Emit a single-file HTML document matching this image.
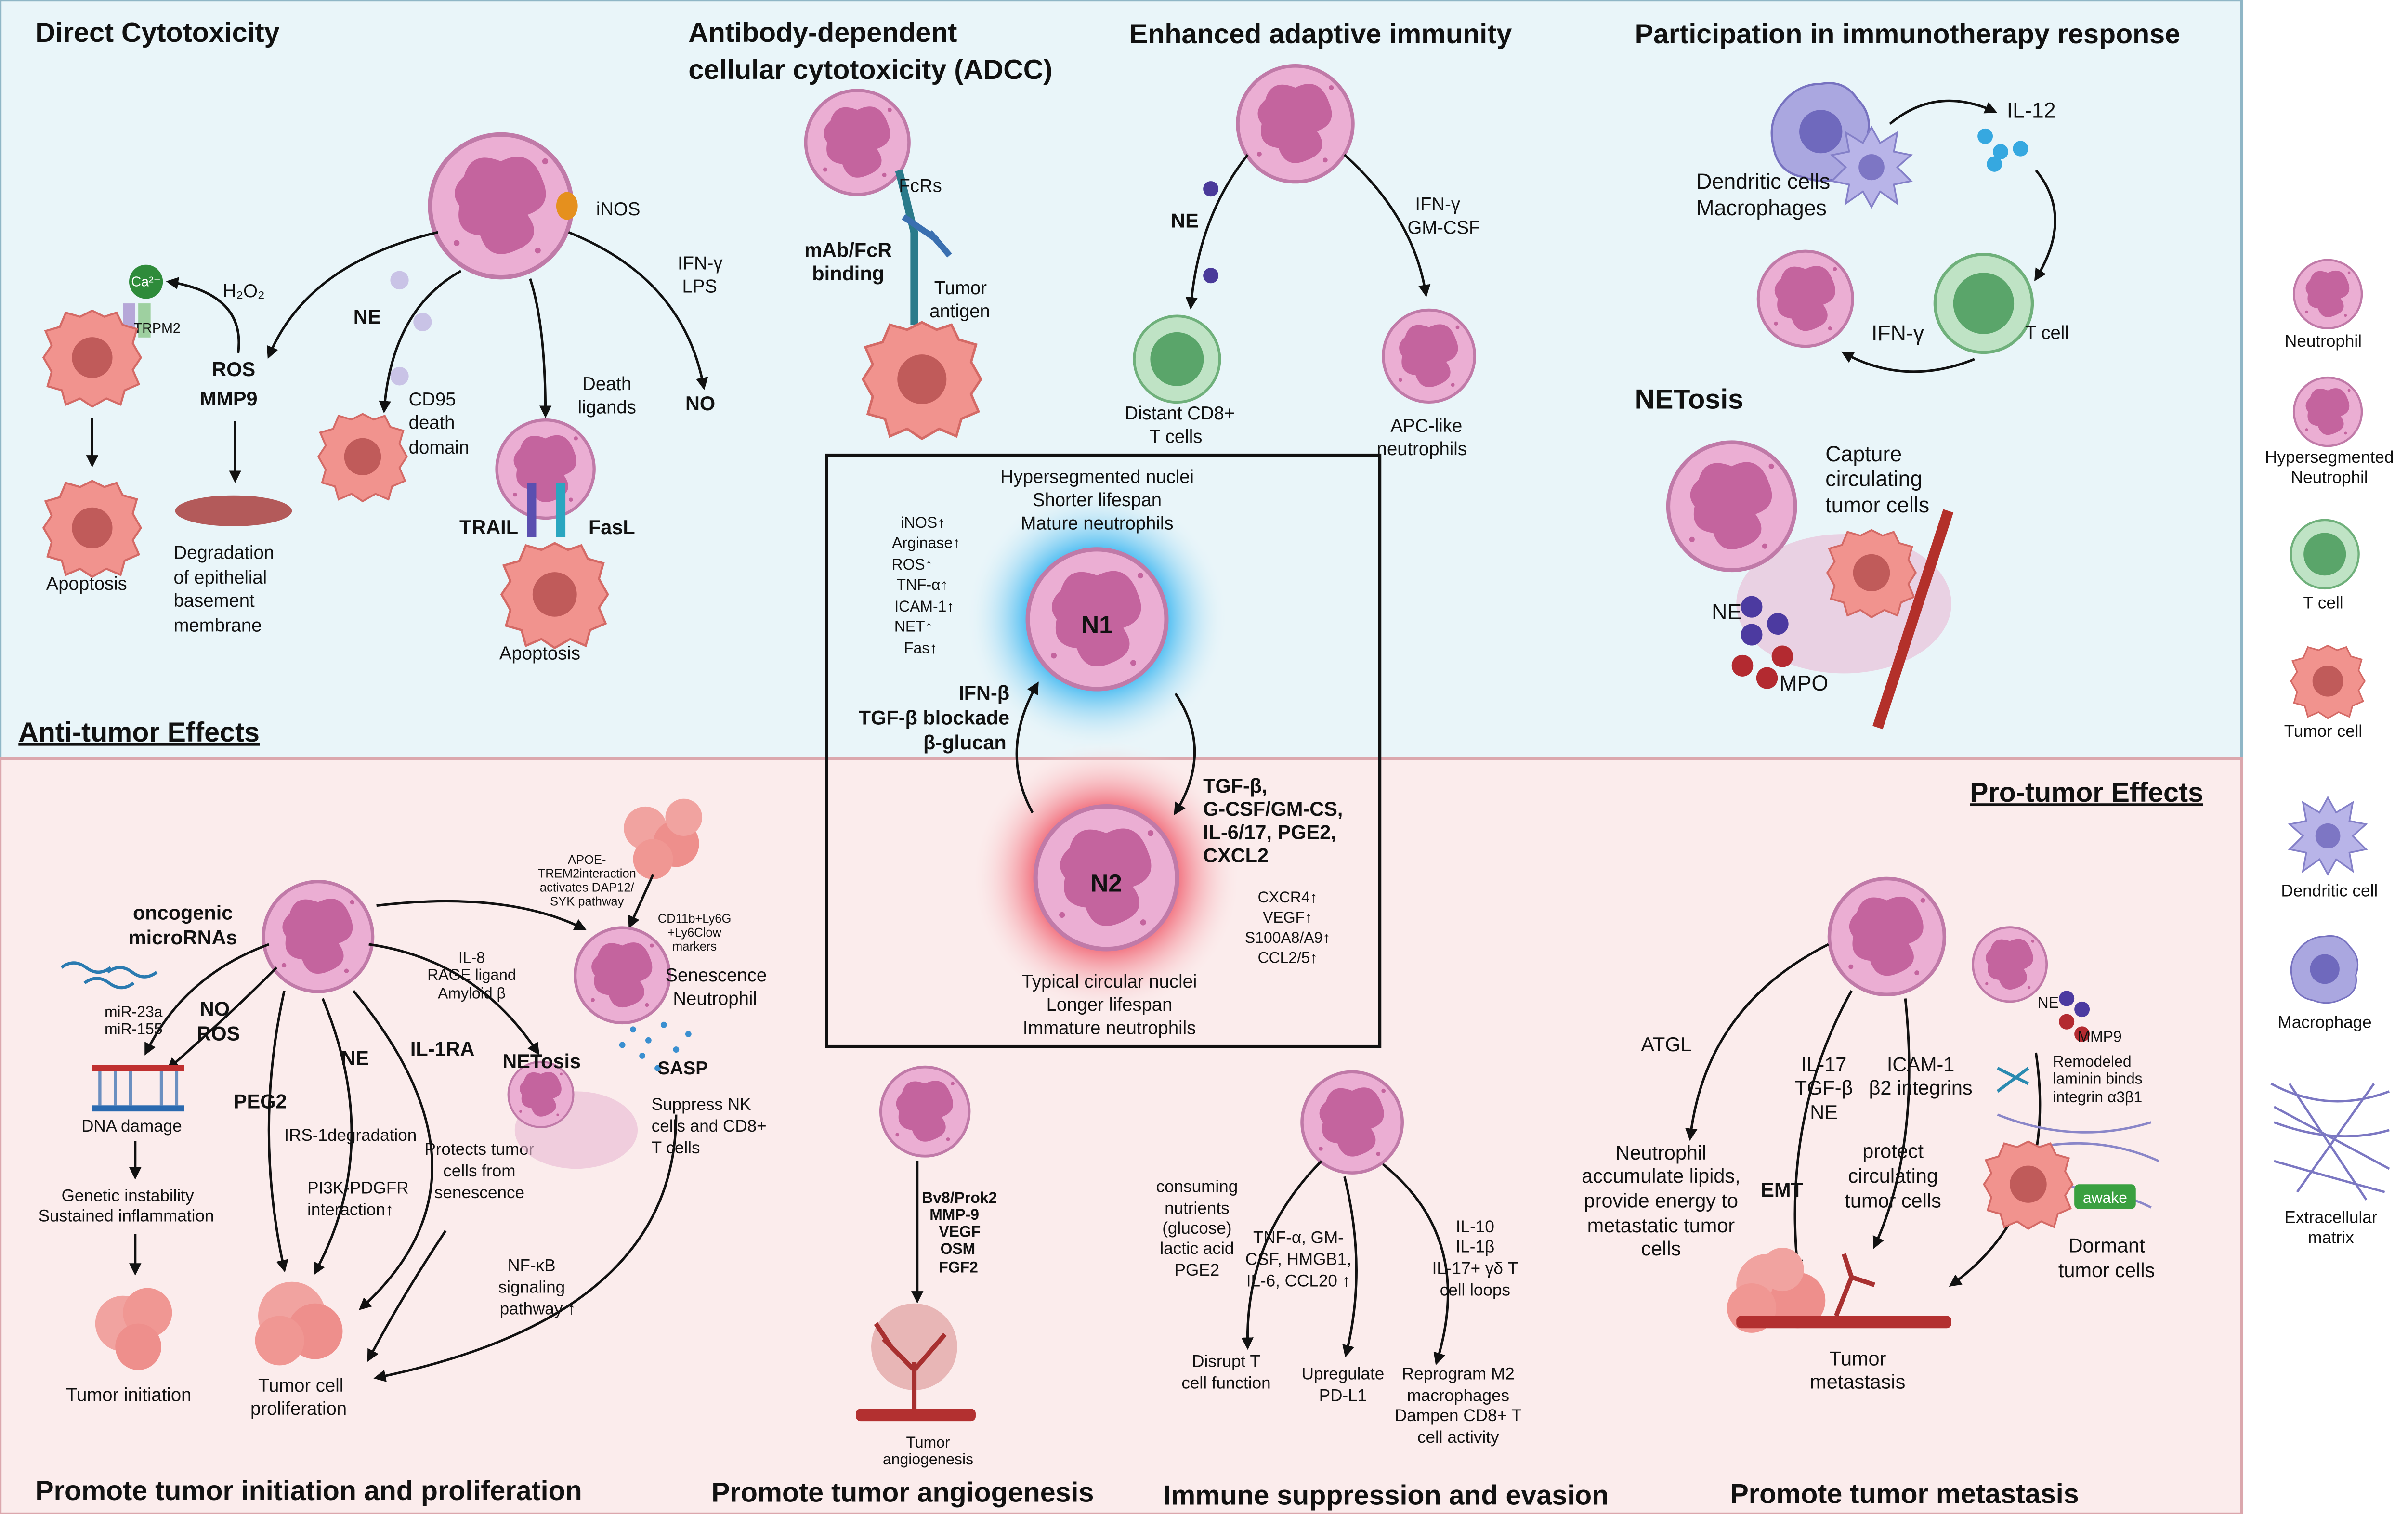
<!DOCTYPE html>
<html><head><meta charset="utf-8"><style>
html,body{margin:0;padding:0;background:#fff}
svg{display:block}
text{font-family:"Liberation Sans",sans-serif;fill:#111}
.t{font-size:18px;font-weight:bold}
.s{font-size:12px}
.xs{font-size:9px}
.b{font-weight:bold;font-size:13px}
.c{text-anchor:middle}
.r{text-anchor:end}
.a{fill:none;stroke:#111;stroke-width:1.6;marker-end:url(#ar)}
</style></head><body>
<svg width="5025" height="3144" viewBox="0 0 1575 978" preserveAspectRatio="none" xmlns="http://www.w3.org/2000/svg">
<defs>
<marker id="ar" markerWidth="8" markerHeight="8" refX="6" refY="4" orient="auto" markerUnits="userSpaceOnUse"><path d="M0,0 L8,4 L0,8 z" fill="#111"/></marker>
<symbol id="neu" viewBox="-50 -50 100 100"><circle r="48" fill="#ebaed3" stroke="#c07aa8" stroke-width="3"/><path d="M-25,-20 Q-20,-38 0,-30 Q20,-40 28,-18 Q36,0 18,6 Q30,22 10,30 Q-8,38 -14,20 Q-32,18 -28,0 Q-36,-10 -25,-20z" fill="#c4649e"/><circle cx="-30" cy="25" r="2" fill="#c4649e"/><circle cx="30" cy="-30" r="2" fill="#c4649e"/><circle cx="25" cy="30" r="2" fill="#c4649e"/></symbol>
<symbol id="tum" viewBox="-50 -50 100 100"><path d="M0,-46 L12,-40 24,-44 30,-32 44,-28 40,-14 48,0 40,12 46,26 32,32 28,46 14,40 0,48 -12,40 -26,46 -30,32 -44,28 -40,14 -48,0 -40,-12 -46,-26 -32,-30 -26,-44 -12,-40z" fill="#f1938e" stroke="#d46a66" stroke-width="2"/><circle r="20" fill="#c05b5a"/></symbol>
<symbol id="tc" viewBox="-50 -50 100 100"><circle r="48" fill="#bfe3c5" stroke="#6fb07b" stroke-width="3"/><circle r="30" fill="#5aa56a"/></symbol>
<symbol id="dc" viewBox="-50 -50 100 100"><path d="M0,-46 L10,-28 30,-40 26,-18 46,-14 30,0 46,16 26,20 30,42 10,28 0,46 -10,28 -30,42 -26,20 -46,16 -30,0 -46,-14 -26,-18 -30,-40 -10,-28z" fill="#b8b4e8" stroke="#8480c8" stroke-width="2"/><circle r="15" fill="#7d76c4"/></symbol>
<symbol id="mac" viewBox="-50 -50 100 100"><path d="M0,-44 Q22,-48 34,-30 Q50,-14 42,8 Q46,32 24,40 Q4,50 -16,42 Q-40,38 -44,14 Q-50,-10 -34,-28 Q-20,-44 0,-44z" fill="#aaa7e0" stroke="#7772c0" stroke-width="2"/><circle r="20" fill="#6f69bd"/></symbol>
<radialGradient id="gb"><stop offset="0.5" stop-color="#2ab0f0" stop-opacity="0.9"/><stop offset="1" stop-color="#e8f4f8" stop-opacity="0"/></radialGradient>
<radialGradient id="gr"><stop offset="0.5" stop-color="#f05a6a" stop-opacity="0.9"/><stop offset="1" stop-color="#fbecec" stop-opacity="0"/></radialGradient>
</defs>
<rect x="0" y="0" width="1459" height="490" fill="#e9f5f9" stroke="#8fb6c6" stroke-width="2"/>
<rect x="0" y="490" width="1459" height="488" fill="#fbecec" stroke="#dba7ad" stroke-width="2"/>
<rect x="1460" y="0" width="115" height="978" fill="#fff"/>

<text class="t" x="23" y="27">Direct Cytotoxicity</text>
<text class="t" x="448" y="27">Antibody-dependent</text>
<text class="t" x="448" y="51">cellular cytotoxicity (ADCC)</text>
<text class="t" x="735" y="28">Enhanced adaptive immunity</text>
<text class="t" x="1064" y="28">Participation in immunotherapy response</text>
<text class="t" x="1064" y="264">NETosis</text>
<text class="t" x="12" y="479" text-decoration="underline">Anti-tumor Effects</text>
<text class="t" x="1282" y="518" text-decoration="underline">Pro-tumor Effects</text>
<text class="t" x="23" y="969">Promote tumor initiation and proliferation</text>
<text class="t" x="463" y="970">Promote tumor angiogenesis</text>
<text class="t" x="757" y="972">Immune suppression and evasion</text>
<text class="t" x="1126" y="971">Promote tumor metastasis</text>

<use href="#neu" x="278" y="85" width="96" height="96"/>
<ellipse cx="369" cy="133" rx="7" ry="9" fill="#e5901e"/>
<text class="s" x="388" y="139">iNOS</text>
<path class="a" d="M285,150 Q200,170 175,230"/>
<path class="a" d="M300,175 Q255,200 250,265"/>
<path class="a" d="M345,180 Q355,210 355,268"/>
<path class="a" d="M370,150 Q445,180 458,250"/>
<path class="a" d="M155,228 Q160,190 110,182"/>
<circle cx="95" cy="182" r="11" fill="#2e8b3a"/><text class="xs c" x="95" y="185" style="fill:#fff">Ca²⁺</text>
<rect x="80" y="196" width="8" height="22" fill="#b6a7d8"/><rect x="90" y="196" width="8" height="22" fill="#9ed0a0"/>
<text class="xs" x="87" y="215">TRPM2</text>
<text class="s" x="145" y="192">H₂O₂</text>
<use href="#tum" x="27" y="198" width="66" height="66"/>
<path class="a" d="M60,270 L60,300"/>
<use href="#tum" x="27" y="308" width="66" height="66"/>
<text class="s" x="30" y="381">Apoptosis</text>
<text class="b" x="138" y="243">ROS</text><text class="b" x="130" y="262">MMP9</text>
<path class="a" d="M153,272 L153,310"/>
<ellipse cx="152" cy="330" rx="38" ry="10" fill="#b35a5a"/>
<text class="s" x="113" y="361">Degradation</text><text class="s" x="113" y="377">of epithelial</text><text class="s" x="113" y="392">basement</text><text class="s" x="113" y="408">membrane</text>
<text class="b" x="230" y="209">NE</text>
<circle cx="260" cy="181" r="6" fill="#c9c3e6"/><circle cx="275" cy="208" r="6" fill="#c9c3e6"/><circle cx="260" cy="243" r="6" fill="#c9c3e6"/>
<use href="#tum" x="206" y="265" width="60" height="60"/>
<text class="s" x="266" y="262">CD95</text><text class="s" x="266" y="277">death</text><text class="s" x="266" y="293">domain</text>
<text class="s" x="379" y="252">Death</text><text class="s" x="376" y="267">ligands</text>
<use href="#neu" x="322" y="270" width="66" height="66"/>
<rect x="343" y="312" width="6" height="35" fill="#5a4fb0"/><rect x="362" y="312" width="6" height="35" fill="#2aa6c0"/>
<text class="b" x="299" y="345">TRAIL</text><text class="b" x="383" y="345">FasL</text>
<use href="#tum" x="322" y="348" width="78" height="72"/>
<text class="s" x="325" y="426">Apoptosis</text>
<text class="s" x="441" y="174">IFN-γ</text><text class="s" x="444" y="189">LPS</text>
<text class="b" x="446" y="265">NO</text>

<use href="#neu" x="523" y="57" width="70" height="70"/>
<path d="M585,110 L595,150 L595,210" stroke="#2a7a8a" stroke-width="5" fill="none"/>
<path d="M588,140 L610,155 M605,150 L618,165" stroke="#3a6fb0" stroke-width="4"/>
<text class="s" x="585" y="124">FcRs</text>
<text class="b c" x="552" y="166">mAb/FcR</text><text class="b c" x="552" y="181">binding</text>
<text class="s" x="608" y="190">Tumor</text><text class="s" x="605" y="205">antigen</text>
<use href="#tum" x="560" y="205" width="80" height="80"/>

<use href="#neu" x="804" y="41" width="78" height="78"/>
<path class="a" d="M812,100 Q780,140 775,198"/>
<path class="a" d="M875,100 Q920,140 928,190"/>
<text class="b" x="762" y="147">NE</text>
<circle cx="788" cy="122" r="5" fill="#4a3a9a"/><circle cx="788" cy="178" r="5" fill="#4a3a9a"/>
<use href="#tc" x="737" y="203" width="58" height="58"/>
<text class="s" x="732" y="271">Distant CD8+</text><text class="s" x="748" y="286">T cells</text>
<text class="s" x="921" y="136">IFN-γ</text><text class="s" x="916" y="151">GM-CSF</text>
<use href="#neu" x="899" y="199" width="62" height="62"/>
<text class="s" x="905" y="279">APC-like</text><text class="s" x="896" y="294">neutrophils</text>

<use href="#mac" x="1150" y="50" width="70" height="70"/>
<use href="#dc" x="1190" y="80" width="56" height="56"/>
<text class="s" x="1104" y="122" style="font-size:14px">Dendritic cells</text>
<text class="s" x="1104" y="139" style="font-size:14px">Macrophages</text>
<path class="a" d="M1230,80 Q1260,55 1298,72"/>
<text class="s" x="1306" y="76" style="font-size:14px">IL-12</text>
<circle cx="1292" cy="88" r="5" fill="#36a8e0"/><circle cx="1302" cy="98" r="5" fill="#36a8e0"/><circle cx="1315" cy="96" r="5" fill="#36a8e0"/><circle cx="1298" cy="106" r="5" fill="#36a8e0"/>
<path class="a" d="M1325,110 Q1350,140 1325,180"/>
<use href="#tc" x="1258" y="163" width="66" height="66"/>
<text class="s" x="1318" y="219">T cell</text>
<use href="#neu" x="1143" y="161" width="64" height="64"/>
<path class="a" d="M1285,232 Q1240,250 1200,228"/>
<text class="s" x="1218" y="220" style="font-size:14px">IFN-γ</text>

<ellipse cx="1200" cy="390" rx="70" ry="45" fill="#e9b9d3" opacity="0.6"/>
<use href="#neu" x="1084" y="284" width="86" height="86"/>
<path d="M1268,330 L1222,470" stroke="#b3302a" stroke-width="7"/>
<use href="#tum" x="1188" y="340" width="60" height="60"/>
<text class="s" x="1188" y="298" style="font-size:14px">Capture</text><text class="s" x="1188" y="314" style="font-size:14px">circulating</text><text class="s" x="1188" y="331" style="font-size:14px">tumor cells</text>
<circle cx="1140" cy="392" r="7" fill="#4c3aa0"/><circle cx="1157" cy="403" r="7" fill="#4c3aa0"/><circle cx="1140" cy="410" r="7" fill="#4c3aa0"/>
<circle cx="1134" cy="430" r="7" fill="#b32a30"/><circle cx="1150" cy="438" r="7" fill="#b32a30"/><circle cx="1160" cy="424" r="7" fill="#b32a30"/>
<text class="s" x="1114" y="400" style="font-size:14px">NE</text>
<text class="s" x="1158" y="446" style="font-size:14px">MPO</text>

<circle cx="714" cy="400" r="85" fill="url(#gb)"/>
<circle cx="720" cy="567" r="88" fill="url(#gr)"/>
<rect x="538" y="294" width="360" height="382" fill="none" stroke="#111" stroke-width="2"/>
<text class="s c" x="714" y="312">Hypersegmented nuclei</text><text class="s c" x="714" y="327">Shorter lifespan</text><text class="s c" x="714" y="342">Mature neutrophils</text>
<g class="xs">
<text class="r" x="615" y="341" style="font-size:10px">iNOS↑</text><text class="r" x="625" y="354" style="font-size:10px">Arginase↑</text><text class="r" x="607" y="368" style="font-size:10px">ROS↑</text><text class="r" x="617" y="381" style="font-size:10px">TNF-α↑</text><text class="r" x="621" y="395" style="font-size:10px">ICAM-1↑</text><text class="r" x="607" y="408" style="font-size:10px">NET↑</text><text class="r" x="610" y="422" style="font-size:10px">Fas↑</text>
</g>
<use href="#neu" x="667" y="353" width="94" height="94"/>
<text class="c" x="714" y="409" style="font-size:16px;font-weight:bold">N1</text>
<use href="#neu" x="672" y="519" width="96" height="96"/>
<text class="c" x="720" y="576" style="font-size:16px;font-weight:bold">N2</text>
<path class="a" d="M765,448 Q790,485 765,525"/>
<path class="a" d="M672,525 Q650,485 675,442"/>
<text class="b r" x="657" y="452">IFN-β</text><text class="b r" x="657" y="468">TGF-β blockade</text><text class="b r" x="655" y="484">β-glucan</text>
<text class="b" x="783" y="512">TGF-β,</text><text class="b" x="783" y="527">G-CSF/GM-CS,</text><text class="b" x="783" y="542">IL-6/17, PGE2,</text><text class="b" x="783" y="557">CXCL2</text>
<text class="s c" x="838" y="583" style="font-size:10px">CXCR4↑</text><text class="s c" x="838" y="596" style="font-size:10px">VEGF↑</text><text class="s c" x="838" y="609" style="font-size:10px">S100A8/A9↑</text><text class="s c" x="838" y="622" style="font-size:10px">CCL2/5↑</text>
<text class="s c" x="722" y="638">Typical circular nuclei</text><text class="s c" x="722" y="653">Longer lifespan</text><text class="s c" x="722" y="668">Immature neutrophils</text>

<use href="#neu" x="170" y="568" width="74" height="74"/>
<text class="b c" x="119" y="594">oncogenic</text><text class="b c" x="119" y="610">microRNAs</text>
<path d="M40,625 q8,-6 16,0 t16,0 M55,635 q8,-6 16,0 t16,0 M70,628 q8,-6 16,0 t16,0" stroke="#2a7ab0" fill="none" stroke-width="2"/>
<text class="s" x="68" y="657" style="font-size:10px">miR-23a</text><text class="s" x="68" y="668" style="font-size:10px">miR-155</text>
<path class="a" d="M175,610 Q120,630 95,680"/>
<path class="a" d="M180,625 Q150,655 110,690"/>
<text class="b" x="130" y="656">NO</text><text class="b" x="128" y="672">ROS</text>
<rect x="60" y="688" width="60" height="4" fill="#c03030"/><rect x="60" y="714" width="60" height="4" fill="#2a6ab0"/>
<path d="M65,692 v22 M75,692 v22 M85,692 v22 M105,692 v22 M115,692 v22" stroke="#6b8fc0" stroke-width="2"/>
<text class="s" x="53" y="731" style="font-size:11px">DNA damage</text>
<path class="a" d="M88,737 L88,760"/>
<text class="s" x="40" y="776" style="font-size:11px">Genetic instability</text><text class="s" x="25" y="789" style="font-size:11px">Sustained inflammation</text>
<path class="a" d="M88,797 L88,822"/>
<circle cx="80" cy="855" r="18" fill="#f1a3a0"/><circle cx="96" cy="848" r="16" fill="#f09793"/><circle cx="90" cy="870" r="15" fill="#ee8f8c"/>
<text class="s" x="43" y="905">Tumor initiation</text>
<path class="a" d="M185,640 Q165,730 185,820"/>
<path class="a" d="M210,645 Q250,740 205,822"/>
<path class="a" d="M230,640 Q330,760 235,845"/>
<path class="a" d="M290,795 Q260,840 240,878"/>
<path class="a" d="M245,585 Q330,575 380,600"/>
<path class="a" d="M240,610 Q310,620 350,680"/>
<path class="a" d="M440,720 Q440,850 245,890"/>
<text class="b" x="152" y="716">PEG2</text><text class="b" x="222" y="688">NE</text><text class="b" x="267" y="682">IL-1RA</text>
<text class="s" x="185" y="737" style="font-size:11px">IRS-1degradation</text>
<text class="s" x="200" y="771" style="font-size:11px">PI3K-PDGFR</text><text class="s" x="200" y="785" style="font-size:11px">interaction↑</text>
<circle cx="190" cy="850" r="22" fill="#f1a3a0"/><circle cx="205" cy="860" r="18" fill="#ee8f8c"/><circle cx="182" cy="866" r="16" fill="#f09793"/>
<text class="s" x="168" y="899">Tumor cell</text><text class="s" x="163" y="914">proliferation</text>
<text class="s c" x="312" y="746" style="font-size:11px">Protects tumor</text><text class="s c" x="312" y="760" style="font-size:11px">cells from</text><text class="s c" x="312" y="774" style="font-size:11px">senescence</text>
<text class="s c" x="307" y="622" style="font-size:10px">IL-8</text><text class="s c" x="307" y="633" style="font-size:10px">RAGE ligand</text><text class="s c" x="307" y="645" style="font-size:10px">Amyloid β</text>
<ellipse cx="375" cy="730" rx="40" ry="25" fill="#e9b9d3" opacity="0.6"/>
<use href="#neu" x="330" y="685" width="44" height="44"/>
<text class="b" x="327" y="690">NETosis</text>
<text class="xs c" x="382" y="558" style="font-size:8px">APOE-</text><text class="xs c" x="382" y="567" style="font-size:8px">TREM2interaction</text><text class="xs c" x="382" y="576" style="font-size:8px">activates DAP12/</text><text class="xs c" x="382" y="585" style="font-size:8px">SYK pathway</text>
<circle cx="420" cy="535" r="14" fill="#f1a3a0"/><circle cx="440" cy="545" r="15" fill="#ee8f8c"/><circle cx="425" cy="555" r="13" fill="#f09793"/><circle cx="445" cy="528" r="12" fill="#f1a3a0"/>
<path class="a" d="M425,565 L410,598"/>
<use href="#neu" x="373" y="598" width="64" height="64"/>
<text class="xs c" x="452" y="596" style="font-size:8px">CD11b+Ly6G</text><text class="xs c" x="452" y="605" style="font-size:8px">+Ly6Clow</text><text class="xs c" x="452" y="614" style="font-size:8px">markers</text>
<text class="s" x="433" y="634">Senescence</text><text class="s" x="438" y="649">Neutrophil</text>
<g fill="#3a8fd0"><circle cx="412" cy="665" r="2"/><circle cx="422" cy="672" r="2"/><circle cx="432" cy="662" r="2"/><circle cx="418" cy="682" r="2"/><circle cx="440" cy="678" r="2"/><circle cx="405" cy="675" r="2"/><circle cx="428" cy="690" r="2"/><circle cx="448" cy="668" r="2"/></g>
<text class="b" x="428" y="694" style="font-size:12px">SASP</text>
<text class="s" x="424" y="717" style="font-size:11px">Suppress NK</text><text class="s" x="424" y="731" style="font-size:11px">cells and CD8+</text><text class="s" x="424" y="745" style="font-size:11px">T cells</text>
<text class="s c" x="346" y="821" style="font-size:11px">NF-κB</text><text class="s c" x="346" y="835" style="font-size:11px">signaling</text><text class="s c" x="350" y="849" style="font-size:11px">pathway ↑</text>

<use href="#neu" x="572" y="688" width="60" height="60"/>
<path class="a" d="M597,750 L597,840"/>
<text class="b" x="600" y="777" style="font-size:10px">Bv8/Prok2</text><text class="b" x="605" y="788" style="font-size:10px">MMP-9</text><text class="b" x="611" y="799" style="font-size:10px">VEGF</text><text class="b" x="612" y="810" style="font-size:10px">OSM</text><text class="b" x="611" y="822" style="font-size:10px">FGF2</text>
<circle cx="595" cy="870" r="28" fill="#e0a0a0" opacity="0.7"/>
<path d="M595,910 L595,880 M595,885 L575,865 M595,885 L615,862 M580,870 L570,855" stroke="#a83030" stroke-width="3"/>
<rect x="557" y="910" width="78" height="8" fill="#b33030" rx="3"/>
<text class="s c" x="604" y="935" style="font-size:10px">Tumor</text><text class="s c" x="604" y="946" style="font-size:10px">angiogenesis</text>

<use href="#neu" x="846" y="691" width="68" height="68"/>
<path class="a" d="M860,750 Q810,800 812,870"/>
<path class="a" d="M875,760 Q890,820 876,875"/>
<path class="a" d="M900,752 Q960,800 935,880"/>
<text class="s c" x="779" y="770" style="font-size:11px">consuming</text><text class="s c" x="779" y="784" style="font-size:11px">nutrients</text><text class="s c" x="779" y="797" style="font-size:11px">(glucose)</text><text class="s c" x="779" y="810" style="font-size:11px">lactic acid</text><text class="s c" x="779" y="824" style="font-size:11px">PGE2</text>
<text class="s c" x="845" y="803" style="font-size:11px">TNF-α, GM-</text><text class="s c" x="845" y="817" style="font-size:11px">CSF, HMGB1,</text><text class="s c" x="845" y="831" style="font-size:11px">IL-6, CCL20 ↑</text>
<text class="s c" x="960" y="796" style="font-size:11px">IL-10</text><text class="s c" x="960" y="809" style="font-size:11px">IL-1β</text><text class="s c" x="960" y="823" style="font-size:11px">IL-17+ γδ T</text><text class="s c" x="960" y="837" style="font-size:11px">cell loops</text>
<text class="s c" x="798" y="883" style="font-size:11px">Disrupt T</text><text class="s c" x="798" y="897" style="font-size:11px">cell function</text>
<text class="s c" x="874" y="891" style="font-size:11px">Upregulate</text><text class="s c" x="874" y="905" style="font-size:11px">PD-L1</text>
<text class="s c" x="949" y="891" style="font-size:11px">Reprogram M2</text><text class="s c" x="949" y="905" style="font-size:11px">macrophages</text><text class="s c" x="949" y="918" style="font-size:11px">Dampen CD8+ T</text><text class="s c" x="949" y="932" style="font-size:11px">cell activity</text>

<use href="#neu" x="1189" y="566" width="78" height="78"/>
<path class="a" d="M1190,610 Q1110,650 1100,735"/>
<path class="a" d="M1205,640 Q1160,720 1170,820"/>
<path class="a" d="M1240,645 Q1250,740 1220,805"/>
<path class="a" d="M1325,680 Q1340,780 1270,830"/>
<text class="s" x="1068" y="679" style="font-size:13px">ATGL</text>
<text class="s c" x="1187" y="692" style="font-size:13px">IL-17</text><text class="s c" x="1187" y="707" style="font-size:13px">TGF-β</text><text class="s c" x="1187" y="723" style="font-size:13px">NE</text>
<text class="s c" x="1250" y="692" style="font-size:13px">ICAM-1</text><text class="s c" x="1250" y="707" style="font-size:13px">β2 integrins</text>
<text class="s c" x="1081" y="749" style="font-size:13px">Neutrophil</text><text class="s c" x="1081" y="764" style="font-size:13px">accumulate lipids,</text><text class="s c" x="1081" y="780" style="font-size:13px">provide energy to</text><text class="s c" x="1081" y="796" style="font-size:13px">metastatic tumor</text><text class="s c" x="1081" y="811" style="font-size:13px">cells</text>
<text class="b" x="1146" y="773">EMT</text>
<text class="s c" x="1232" y="748" style="font-size:13px">protect</text><text class="s c" x="1232" y="764" style="font-size:13px">circulating</text><text class="s c" x="1232" y="780" style="font-size:13px">tumor cells</text>
<circle cx="1150" cy="830" r="20" fill="#f1a3a0"/><circle cx="1170" cy="840" r="18" fill="#ee8f8c"/><circle cx="1140" cy="845" r="16" fill="#f09793"/><circle cx="1160" cy="820" r="14" fill="#f1a3a0"/>
<rect x="1130" y="850" width="140" height="8" fill="#b33030" rx="3"/>
<path d="M1195,850 L1205,825 L1220,830 M1205,825 L1200,810" stroke="#a83030" stroke-width="3" fill="none"/>
<text class="s c" x="1209" y="882" style="font-size:13px">Tumor</text><text class="s c" x="1209" y="897" style="font-size:13px">metastasis</text>
<use href="#neu" x="1283" y="598" width="50" height="50"/>
<circle cx="1345" cy="645" r="5" fill="#4c3aa0"/><circle cx="1355" cy="652" r="5" fill="#4c3aa0"/><circle cx="1345" cy="660" r="5" fill="#b32a30"/><circle cx="1355" cy="668" r="5" fill="#b32a30"/>
<text class="s" x="1326" y="651" style="font-size:10px">NE</text><text class="s" x="1352" y="673" style="font-size:10px">MMP9</text>
<text class="s" x="1336" y="689" style="font-size:10px">Remodeled</text><text class="s" x="1336" y="700" style="font-size:10px">laminin binds</text><text class="s" x="1336" y="712" style="font-size:10px">integrin α3β1</text>
<path d="M1300,690 L1320,700 M1300,705 L1320,690" stroke="#2a8ab0" stroke-width="2"/>
<path d="M1300,720 Q1350,740 1400,725 M1310,745 Q1360,730 1405,750 M1305,770 Q1360,760 1400,780" stroke="#8a86c8" stroke-width="1.5" fill="none"/>
<use href="#tum" x="1290" y="735" width="60" height="60"/>
<rect x="1350" y="765" width="40" height="16" rx="3" fill="#3aa040"/><text class="s c" x="1370" y="777" style="font-size:10px;fill:#fff">awake</text>
<text class="s c" x="1371" y="809" style="font-size:13px">Dormant</text><text class="s c" x="1371" y="825" style="font-size:13px">tumor cells</text>

<use href="#neu" x="1492" y="167" width="46" height="46"/><text class="s c" x="1512" y="224" style="font-size:11px">Neutrophil</text>
<use href="#neu" x="1492" y="243" width="46" height="46"/><text class="s c" x="1516" y="299" style="font-size:11px">Hypersegmented</text><text class="s c" x="1516" y="312" style="font-size:11px">Neutrophil</text>
<use href="#tc" x="1490" y="335" width="46" height="46"/><text class="s c" x="1512" y="393" style="font-size:11px">T cell</text>
<use href="#tum" x="1490" y="415" width="50" height="50"/><text class="s c" x="1512" y="476" style="font-size:11px">Tumor cell</text>
<use href="#dc" x="1488" y="513" width="54" height="54"/><text class="s c" x="1516" y="579" style="font-size:11px">Dendritic cell</text>
<use href="#mac" x="1489" y="602" width="48" height="48"/><text class="s c" x="1513" y="664" style="font-size:11px">Macrophage</text>
<path d="M1478,700 Q1515,720 1555,705 M1480,725 Q1520,740 1555,730 M1480,750 Q1515,760 1552,770 M1490,700 L1540,775 M1545,700 L1495,770 M1480,715 L1555,755" stroke="#7b77c2" stroke-width="1.5" fill="none"/>
<text class="s c" x="1517" y="790" style="font-size:11px">Extracellular</text><text class="s c" x="1517" y="803" style="font-size:11px">matrix</text>
</svg>
</body></html>
